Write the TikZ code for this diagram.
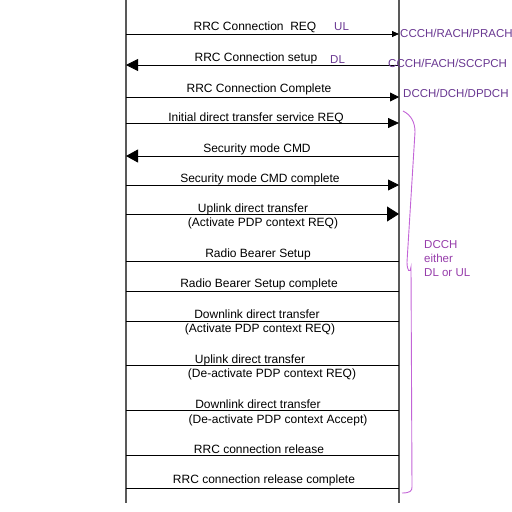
\documentclass[tikz,border=0pt]{standalone}
\usepackage{fontspec}
\setmainfont{Liberation Sans}
\usetikzlibrary{arrows.meta}
\definecolor{chan}{RGB}{105,55,145}
\definecolor{dcch}{RGB}{150,60,170}
\definecolor{brc}{RGB}{195,100,215}
\begin{document}
\begin{tikzpicture}[x=1pt,y=-1pt,
		msg/.style={line width=.8pt},
		life/.style={gray!70!black,line width=1.3pt},
		lbl/.style={font=\fontsize{12}{14}\selectfont,inner sep=0pt,anchor=base},
		chlbl/.style={font=\fontsize{11.5}{13}\selectfont,text=chan,inner sep=0pt,anchor=base west}]
		\useasboundingbox (0,0) rectangle (512,512);
		% lifelines
		\coordinate (ueTop) at (126,0);
		\coordinate (ueBot) at (126,503);
		\coordinate (rncTop) at (399,0);
		\coordinate (rncBot) at (399,503);
		\draw[life] (ueTop) -- (ueBot);
		\draw[life] (rncTop) -- (rncBot);
		\foreach \n/\y in {1/34,2/65,3/97,4/123,5/156,6/185,7/214,8/261,9/291,10/321,11/365,12/410,13/455,14/488}{
			\coordinate (ue\n) at (126,\y);
			\coordinate (rnc\n) at (399,\y);}
		% messages
		\draw[msg,-{Triangle[length=7pt,width=6pt]}] (ue1) -- (rnc1);
		\draw[msg,-{Triangle[length=12pt,width=12pt]}] (rnc2) -- (ue2);
		\draw[msg,-{Triangle[length=9pt,width=9pt]}] (ue3) -- (rnc3);
		\draw[msg,-{Triangle[length=11pt,width=10pt]}] (ue4) -- (rnc4);
		\draw[msg,-{Triangle[length=12pt,width=13pt]}] (rnc5) -- (ue5);
		\draw[msg,-{Triangle[length=11pt,width=11pt]}] (ue6) -- (rnc6);
		\draw[msg,-{Triangle[length=12pt,width=15pt]}] (ue7) -- (rnc7);
		\foreach \n in {8,...,14}{
			\draw[msg] (ue\n) -- (rnc\n);}
		% labels
		\node[lbl] (m1) at (255,30) {RRC Connection\ \ REQ};
		\node[lbl] (m2) at (256,61) {RRC Connection setup};
		\node[lbl] (m3) at (259,92) {RRC Connection Complete};
		\node[lbl] (m4) at (256,121) {Initial direct transfer service REQ};
		\node[lbl] (m5) at (257,152) {Security mode CMD};
		\node[lbl] (m6) at (260,182) {Security mode CMD complete};
		\node[lbl] (m7a) at (253,212) {Uplink direct transfer};
		\node[lbl] (m7b) at (263,226) {(Activate PDP context REQ)};
		\node[lbl] (m8) at (258,257) {Radio Bearer Setup};
		\node[lbl] (m9) at (259,287) {Radio Bearer Setup complete};
		\node[lbl] (m10a) at (257,318) {Downlink direct transfer};
		\node[lbl] (m10b) at (260,332) {(Activate PDP context REQ)};
		\node[lbl] (m11a) at (250,363) {Uplink direct transfer};
		\node[lbl] (m11b) at (272,377) {(De-activate PDP context REQ)};
		\node[lbl] (m12a) at (258,408) {Downlink direct transfer};
		\node[lbl] (m12b) at (278,423) {(De-activate PDP context Accept)};
		\node[lbl] (m13) at (259,453) {RRC connection release};
		\node[lbl] (m14) at (264,483) {RRC connection release complete};
		% channels
		\node[chlbl] (ul) at (334,30) {UL};
		\node[chlbl] (dl) at (330,63) {DL};
		\node[chlbl] (ch1) at (400,37) {CCCH/RACH/PRACH};
		\node[chlbl] (ch2) at (388,67) {CCCH/FACH/SCCPCH};
		\node[chlbl] (ch3) at (403,97) {DCCH/DCH/DPDCH};
		% brace
		\draw[brc,line width=.9pt] (403,111) .. controls (411,115) and (415,122) .. (415,132)
			-- (407,262) .. controls (407,271) and (410,274) .. (411,267) -- (412,487)
			.. controls (412,491) and (410,493) .. (402,493);
		\node[font=\fontsize{11.5}{14}\selectfont,text=dcch,align=left,anchor=north west,inner sep=0pt] (dc) at (424,240) {DCCH\\either\\DL or UL};
	\end{tikzpicture}
\end{document}
